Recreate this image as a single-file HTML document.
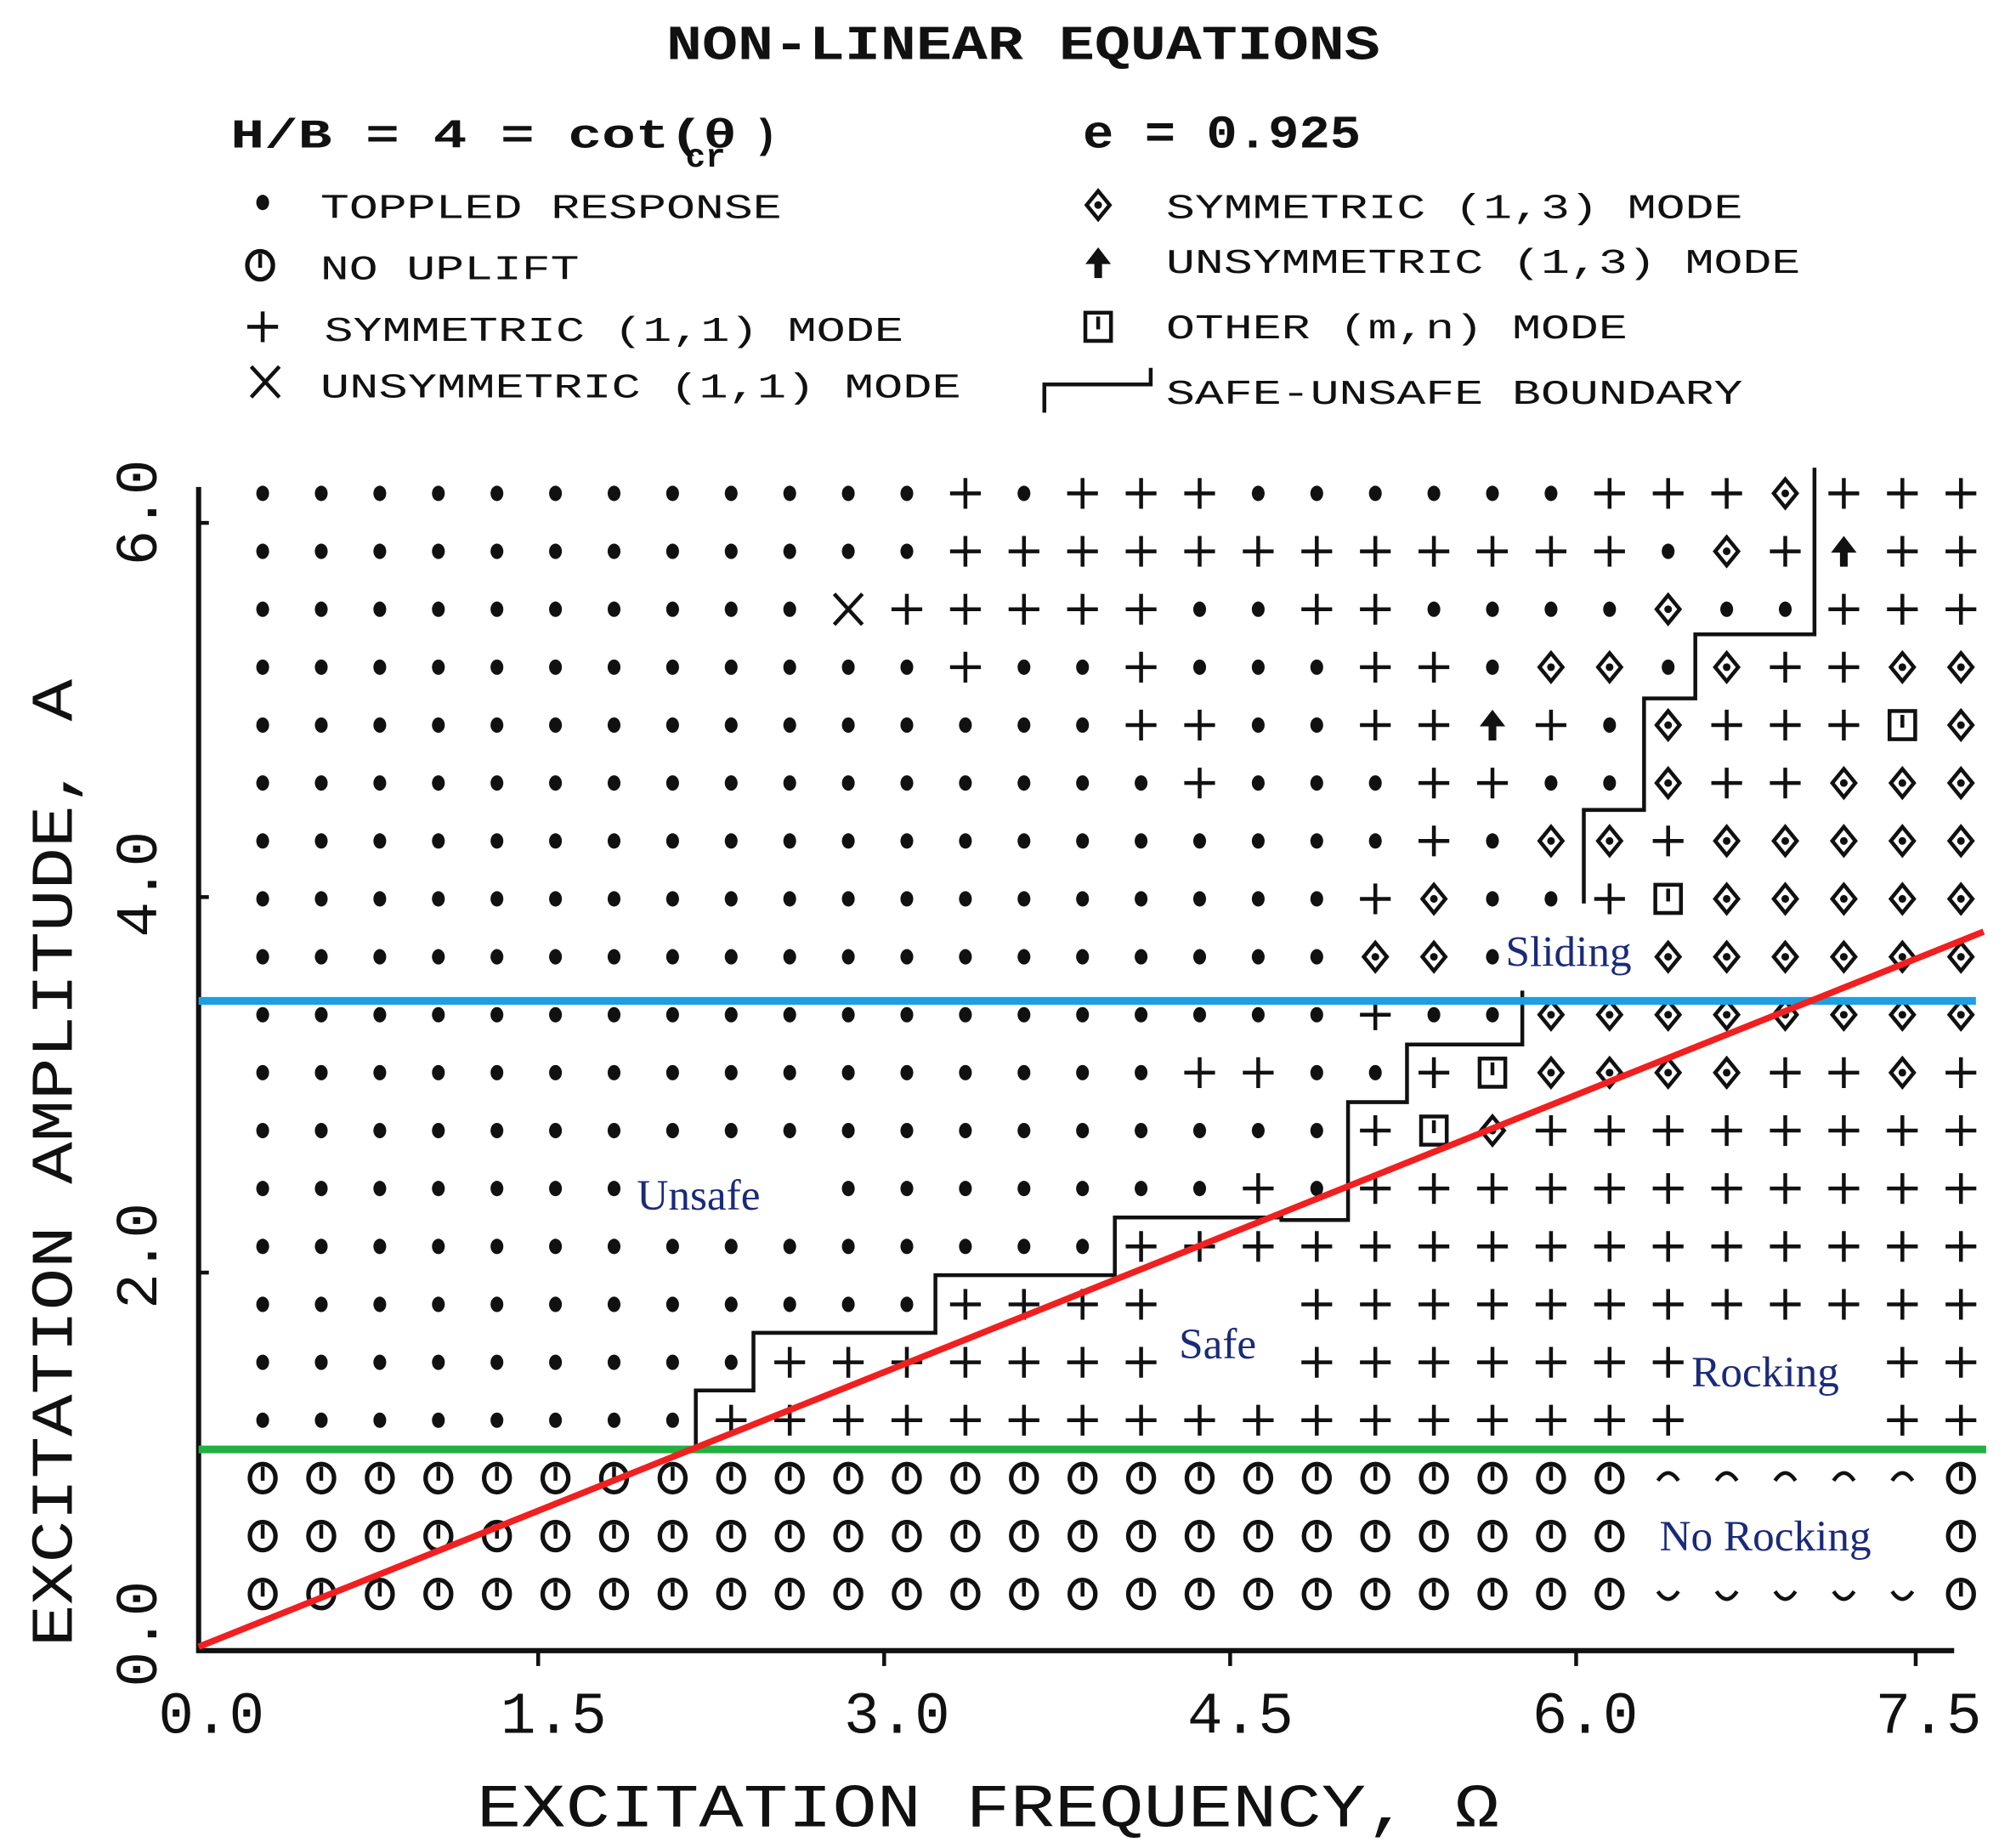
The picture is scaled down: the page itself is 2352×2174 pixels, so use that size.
<!DOCTYPE html>
<html><head><meta charset="utf-8"><style>
html,body{margin:0;padding:0;background:#fff}
svg{display:block}
.m{font-family:"Liberation Mono",monospace;fill:#111}
.s{font-family:"Liberation Serif",serif;fill:#1a2a7a;font-size:34px}
</style></head><body>
<svg id="c" width="2352" height="2174" viewBox="0 0 1560 1442" preserveAspectRatio="none" xmlns="http://www.w3.org/2000/svg">
<rect width="1560" height="1442" fill="#fff"/>
<text class="m" x="520" y="46" font-size="38" textLength="557" lengthAdjust="spacingAndGlyphs" font-weight="bold">NON-LINEAR  EQUATIONS</text>
<text class="m" x="180" y="115" font-size="32" font-weight="bold" textLength="395" lengthAdjust="spacingAndGlyphs">H/B =  4 = cot(θ</text>
<text class="m" x="535" y="130" font-size="26" font-weight="bold">cr</text>
<text class="m" x="588" y="115" font-size="32" font-weight="bold">)</text>
<text class="m" x="845" y="115" font-size="36" font-weight="bold" textLength="217" lengthAdjust="spacingAndGlyphs">e = 0.925</text>
<g class="m" font-size="27">
<text x="250" y="170" textLength="360" lengthAdjust="spacingAndGlyphs">TOPPLED RESPONSE</text>
<text x="250" y="218" textLength="202" lengthAdjust="spacingAndGlyphs">NO UPLIFT</text>
<text x="253" y="266" textLength="452" lengthAdjust="spacingAndGlyphs">SYMMETRIC (1,1) MODE</text>
<text x="250" y="310" textLength="500" lengthAdjust="spacingAndGlyphs">UNSYMMETRIC (1,1) MODE</text>
<text x="910" y="170" textLength="450" lengthAdjust="spacingAndGlyphs">SYMMETRIC (1,3) MODE</text>
<text x="910" y="213" textLength="495" lengthAdjust="spacingAndGlyphs">UNSYMMETRIC (1,3) MODE</text>
<text x="910" y="264" textLength="360" lengthAdjust="spacingAndGlyphs">OTHER  (m,n) MODE</text>
<text x="910" y="315" textLength="450" lengthAdjust="spacingAndGlyphs">SAFE-UNSAFE BOUNDARY</text>
</g>
<path d="M815 322 V300 H898 V287" fill="none" stroke="#111" stroke-width="3"/>
<g id="leg"></g>
<g id="grid"></g>
<path d="M155 380 V1288 H1525" fill="none" stroke="#111" stroke-width="4"/>
<g stroke="#111" stroke-width="3">
<line x1="155" y1="408" x2="163" y2="408"/><line x1="155" y1="700" x2="163" y2="700"/><line x1="155" y1="993" x2="163" y2="993"/>
<line x1="420" y1="1288" x2="420" y2="1300"/><line x1="690" y1="1288" x2="690" y2="1300"/><line x1="960" y1="1288" x2="960" y2="1300"/><line x1="1230" y1="1288" x2="1230" y2="1300"/><line x1="1495" y1="1288" x2="1495" y2="1300"/>
</g>
<path d="M1416 365 V495 H1323 V545 H1283 V632 H1236 V705" fill="none" stroke="#111" stroke-width="3"/>
<path d="M1188 773 V815 H1098 V860 H1052 V952 H1000 V950 H870 V995 H730 V1040 H588 V1085 H543 V1130" fill="none" stroke="#111" stroke-width="3"/>
<g class="m" font-size="46">
<text x="165" y="1352" text-anchor="middle">0.0</text>
<text x="432" y="1352" text-anchor="middle">1.5</text>
<text x="700" y="1352" text-anchor="middle">3.0</text>
<text x="968" y="1352" text-anchor="middle">4.5</text>
<text x="1237" y="1352" text-anchor="middle">6.0</text>
<text x="1505" y="1352" text-anchor="middle">7.5</text>
<text x="372" y="1425" font-size="48" textLength="798" lengthAdjust="spacingAndGlyphs">EXCITATION FREQUENCY, Ω</text>
<text transform="translate(122,400) rotate(-90)" text-anchor="middle">6.0</text>
<text transform="translate(122,690) rotate(-90)" text-anchor="middle">4.0</text>
<text transform="translate(122,980) rotate(-90)" text-anchor="middle">2.0</text>
<text transform="translate(122,1275) rotate(-90)" text-anchor="middle">0.0</text>
<text transform="translate(56,1285) rotate(-90)" font-size="46" textLength="755" lengthAdjust="spacingAndGlyphs">EXCITATION AMPLITUDE, A</text>
</g>
<text class="s" x="497" y="944">Unsafe</text>
<text class="s" x="1175" y="754">Sliding</text>
<text class="s" x="920" y="1060">Safe</text>
<text class="s" x="1320" y="1082">Rocking</text>
<text class="s" x="1295" y="1210">No Rocking</text>
<line x1="155" y1="781" x2="1542" y2="781" stroke="#1ea0e0" stroke-width="6"/>
<line x1="155" y1="1131" x2="1550" y2="1131" stroke="#22b040" stroke-width="6"/>
<line x1="155" y1="1285" x2="1548" y2="727" stroke="#f02020" stroke-width="5"/>
</svg>
<script>
var NS="http://www.w3.org/2000/svg";
function el(p,t,a){var e=document.createElementNS(NS,t);for(var k in a)e.setAttribute(k,a[k]);p.appendChild(e);return e;}
function sym(g,c,x,y){
 var st={stroke:"#111","stroke-width":3,fill:"none"};
 if(c=="."){el(g,"ellipse",{cx:x,cy:y,rx:5,ry:6,fill:"#111"});}
 else if(c=="o"){el(g,"ellipse",{cx:x,cy:y,rx:10,ry:11,stroke:"#111","stroke-width":3.5,fill:"none"});el(g,"line",{x1:x,y1:y-9,x2:x,y2:y+2,stroke:"#111","stroke-width":3});}
 else if(c=="+"){el(g,"path",Object.assign({d:"M"+(x-12)+" "+y+"H"+(x+12)+"M"+x+" "+(y-12)+"V"+(y+12)},st));}
 else if(c=="x"){el(g,"path",Object.assign({d:"M"+(x-11)+" "+(y-12)+"L"+(x+11)+" "+(y+12)+"M"+(x+11)+" "+(y-12)+"L"+(x-11)+" "+(y+12)},st));}
 else if(c=="d"){el(g,"path",Object.assign({d:"M"+x+" "+(y-11)+"L"+(x+9)+" "+y+"L"+x+" "+(y+11)+"L"+(x-9)+" "+y+"Z"},st));el(g,"circle",{cx:x,cy:y,r:3,fill:"#111"});}
 else if(c=="u"){el(g,"path",{d:"M"+x+" "+(y-12)+"L"+(x+10)+" "+(y+1)+"L"+(x+3)+" "+(y+1)+"V"+(y+12)+"H"+(x-3)+"V"+(y+1)+"L"+(x-10)+" "+(y+1)+"Z",fill:"#111"});}
 else if(c=="s"){el(g,"rect",Object.assign({x:x-10,y:y-11,width:20,height:22},st));el(g,"line",{x1:x,y1:y-8,x2:x,y2:y+2,stroke:"#111","stroke-width":3});}
 else if(c=="n"){el(g,"path",Object.assign({d:"M"+(x-8)+" "+(y+2)+"Q"+x+" "+(y-10)+" "+(x+8)+" "+(y+2)},st));}
 else if(c=="c"){el(g,"path",Object.assign({d:"M"+(x-8)+" "+(y-2)+"Q"+x+" "+(y+10)+" "+(x+8)+" "+(y-2)},st));}
}
var rows=[
"............+.+++......+++d+++",
"............++++++++++++.d+u++",
"..........x+++++..++....d..+++",
"............+..+...++.dd.d++dd",
"...............++..++u+.d+++sd",
"................+...++..d++ddd",
"....................+.dd+ddddd",
"...................+d..+sddddd",
"...................dd.  dddddd",
"...................+..dddddddd",
"................++..+sdddd++d+",
"...................+sd++++++++",
".......   .......+.+++++++++++",
"...............+++++++++++++++",
"............++++  ++++++++++++",
".........+++++++  +++++++   ++",
"........+++++++++++++++++   ++",
"oooooooooooooooooooooooonnnnno",
"oooooooooooooooooooooooo     o",
"oooooooooooooooooooooooocccccо"
];
var g=document.getElementById("grid");
for(var r=0;r<rows.length;r++){for(var i=0;i<30;i++){var ch=rows[r][i];if(ch=="о")ch="o";sym(g,ch,205+i*45.7,385+r*45.2);}}
var L=document.getElementById("leg");
sym(L,".",205,158);sym(L,"o",203,207);sym(L,"+",205,255);sym(L,"x",207,298);
sym(L,"d",857,160);sym(L,"u",857,205);sym(L,"s",857,255);
</script>
</body></html>
